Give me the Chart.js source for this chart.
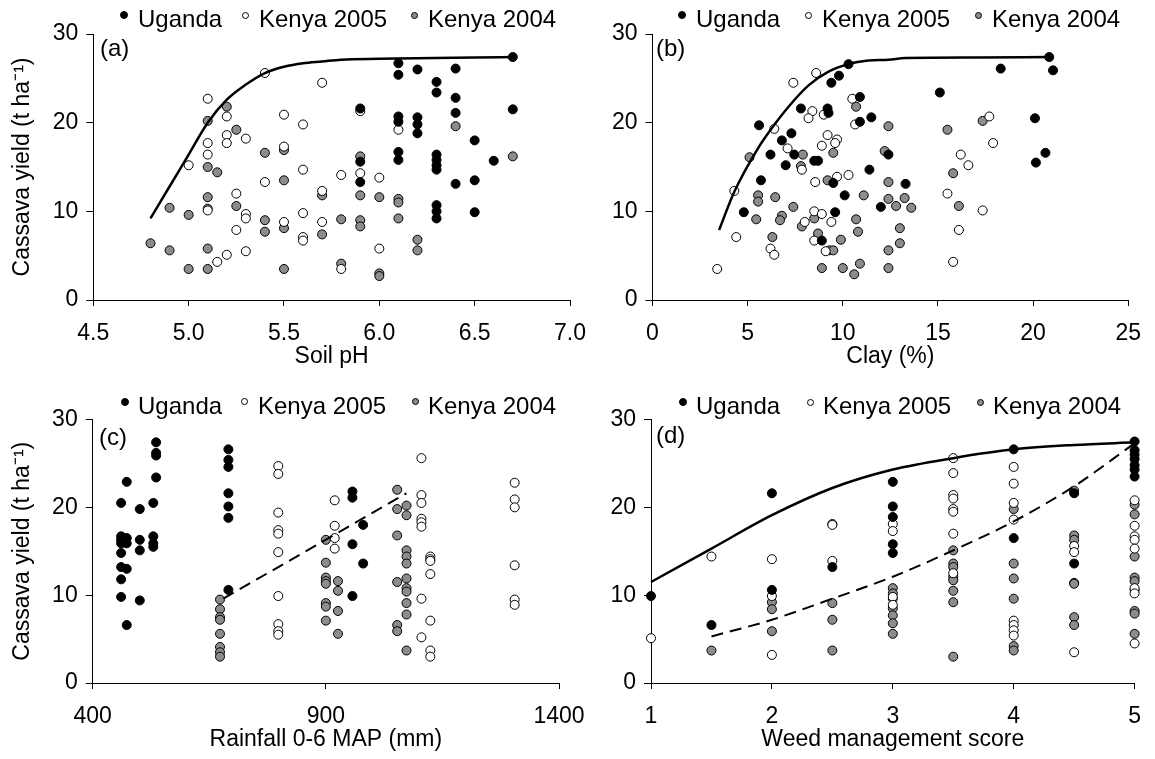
<!DOCTYPE html>
<html>
<head>
<meta charset="utf-8">
<script src="https://cdn.jsdelivr.net/npm/chart.js@4.4.1/dist/chart.umd.min.js"></script>
<style>
  body { margin: 0; background: #fff; }
  #fig { position: relative; width: 1155px; height: 759px; background: #fff; overflow: hidden;
         font-family: 'Liberation Sans', Arial, sans-serif; color: #000; }
  #fig canvas { position: absolute; }
  .txt { position: absolute; font-size: 24px; line-height: 24px; white-space: nowrap; }
  .dot { position: absolute; border-radius: 50%; box-sizing: border-box; border: 1px solid #000; }
</style>
</head>
<body>
<div id="fig">
  <canvas id="chartA" width="600" height="380" style="left:0;top:0"></canvas>
  <canvas id="chartB" width="595" height="380" style="left:560px;top:0"></canvas>
  <canvas id="chartC" width="600" height="379" style="left:0;top:380px"></canvas>
  <canvas id="chartD" width="595" height="379" style="left:560px;top:380px"></canvas>
</div>
<script>
// ---- dados ----
const seriesNames = ['Uganda', 'Kenya 2005', 'Kenya 2004'];
const yieldTicks = [0, 10, 20, 30];
const phTicks = [4.5, 5.0, 5.5, 6.0, 6.5, 7.0];
const clayTicks = [0, 5, 10, 15, 20, 25];
const rainTicks = [400, 900, 1400];
const weedTicks = [1, 2, 3, 4, 5];

// (a) Soil pH
const phUganda = [[5.9,21.6],[5.9,15.6],[5.9,13.3],[6.1,26.7],[6.1,25.4],[6.1,20.7],[6.1,20.1],[6.1,16.7],[6.1,15.8],
  [6.2,26.0],[6.2,20.6],[6.2,19.8],[6.2,18.8],[6.3,24.6],[6.3,23.4],[6.3,16.4],[6.3,15.8],[6.3,15.2],[6.3,14.7],
  [6.3,10.7],[6.3,10.0],[6.3,9.2],[6.4,26.1],[6.4,22.8],[6.4,21.1],[6.4,13.1],[6.5,18.0],[6.5,13.5],[6.5,9.9],
  [6.6,15.7],[6.7,27.4],[6.7,21.5]];
const phKenya05 = [[5.0,15.2],[5.1,22.7],[5.1,17.7],[5.1,16.4],[5.1,10.1],[5.15,4.3],[5.2,20.7],[5.2,18.6],[5.2,17.7],
  [5.2,5.1],[5.25,12.0],[5.25,7.9],[5.3,18.2],[5.3,9.7],[5.3,9.2],[5.3,5.5],[5.4,25.6],[5.4,13.3],[5.5,20.9],
  [5.5,17.3],[5.5,8.8],[5.6,19.8],[5.6,14.7],[5.6,9.8],[5.6,7.1],[5.6,6.7],[5.7,24.5],[5.7,12.3],[5.7,8.8],
  [5.8,14.1],[5.8,3.5],[5.9,21.3],[5.9,14.3],[6.0,13.8],[6.0,5.8],[6.1,19.2]];
const phKenya04 = [[4.8,6.4],[4.9,10.4],[4.9,5.6],[5.0,9.6],[5.0,3.5],[5.1,20.2],[5.1,15.0],[5.1,11.6],[5.1,10.3],
  [5.1,5.8],[5.1,3.5],[5.15,14.4],[5.2,21.8],[5.25,19.2],[5.25,10.6],[5.4,16.6],[5.4,9.0],[5.4,7.7],[5.5,16.9],
  [5.5,13.5],[5.5,8.1],[5.5,3.5],[5.7,11.8],[5.7,7.4],[5.8,9.1],[5.8,4.1],[5.9,16.2],[5.9,11.8],[5.9,9.0],
  [5.9,8.3],[6.0,11.6],[6.0,3.0],[6.0,2.7],[6.1,11.4],[6.1,11.0],[6.1,9.2],[6.2,6.8],[6.2,5.6],[6.4,19.6],[6.7,16.2]];
const phCurve = [[4.8,9.2],[4.9,12.8],[5.0,16.4],[5.1,20.0],[5.2,22.6],[5.3,24.3],[5.4,25.6],[5.5,26.3],
  [5.6,26.7],[5.7,26.9],[5.8,27.1],[6.0,27.2],[6.5,27.35],[6.7,27.4]];

// (b) Clay
const clayUganda = [[10.3,26.6],[9.8,25.3],[9.4,24.5],[7.8,21.6],[9.2,21.6],[9.25,21.1],[5.6,19.7],[7.3,18.8],
  [6.8,18.0],[7.45,16.4],[6.2,16.4],[8.5,15.7],[8.7,15.7],[7.0,15.2],[10.9,22.9],[11.5,20.6],[10.9,20.1],
  [11.4,14.7],[9.5,13.2],[5.7,13.5],[10.1,11.8],[4.8,9.9],[9.6,9.9],[8.9,6.7],[20.85,27.4],[18.3,26.1],
  [21.05,25.9],[15.1,23.4],[20.1,20.5],[20.65,16.6],[20.15,15.5],[12.4,16.4],[13.3,13.1],[12.0,10.5]];
const clayKenya05 = [[8.6,25.6],[7.4,24.5],[10.5,22.7],[10.65,19.8],[8.4,21.3],[8.2,20.5],[9.0,20.9],[6.4,19.3],
  [9.2,18.6],[9.7,18.1],[9.6,17.7],[7.1,17.1],[8.9,17.4],[7.85,14.7],[10.3,14.1],[9.7,13.9],[8.55,13.3],
  [4.3,12.3],[8.5,10.0],[8.9,9.7],[8.0,8.8],[9.4,8.8],[8.5,6.7],[9.1,5.5],[4.4,7.1],[6.2,5.8],[6.4,5.1],
  [3.4,3.5],[17.7,20.7],[17.9,17.7],[16.2,16.4],[16.6,15.2],[15.5,12.0],[17.35,10.1],[16.1,7.9],[15.8,4.3]];
const clayKenya04 = [[5.1,16.1],[7.8,15.1],[7.9,16.4],[9.5,16.6],[10.7,21.8],[9.2,13.5],[5.55,11.8],[5.55,11.1],
  [6.45,11.6],[7.4,10.5],[5.45,9.1],[6.8,9.5],[6.7,9.0],[7.85,8.3],[8.5,9.2],[10.7,9.1],[10.8,7.7],[11.1,11.8],
  [6.3,7.1],[8.7,7.5],[9.9,6.8],[9.3,5.6],[9.5,5.6],[8.9,3.6],[10.0,3.6],[10.6,2.9],[10.9,4.1],[12.4,19.6],
  [12.2,16.8],[12.4,13.3],[12.4,11.4],[12.8,10.6],[13.25,11.5],[13.6,10.4],[13.0,8.1],[13.0,6.4],[12.4,5.6],
  [12.4,3.6],[15.5,19.2],[15.8,14.3],[16.1,10.6],[17.35,20.2]];
const clayCurve = [[3.5,7.9],[4.3,12.2],[5.6,17.3],[6.45,19.9],[7.15,21.8],[8.2,24.2],[9.25,25.75],[10.3,26.6],
  [11.35,27.0],[12.4,27.1],[13.3,27.3],[17.0,27.35],[20.85,27.4]];

// (c) Rainfall
const rainUganda = [[461,20.5],[461,16.7],[461,16.3],[461,15.9],[461,14.8],[461,13.2],[461,11.8],[461,9.8],
  [473,22.9],[473,16.5],[473,15.9],[473,13.0],[473,6.6],[501,19.8],[501,16.3],[501,15.1],[501,9.4],
  [530,20.5],[530,16.7],[530,15.9],[530,15.5],[536,27.4],[536,26.2],[536,25.9],[536,23.4],
  [691,26.6],[691,25.4],[691,24.6],[691,21.6],[691,20.1],[691,18.8],[691,10.6],
  [957,21.8],[957,21.1],[957,15.8],[957,9.9],[980,18.0],[980,13.6]];
const rainKenya05 = [[798,24.7],[798,23.8],[798,19.4],[798,17.4],[798,17.0],[798,14.9],[798,9.9],[798,6.7],
  [798,5.9],[798,5.5],[919,20.8],[919,17.9],[919,16.5],[919,15.3],[1105,25.6],[1105,21.4],[1105,20.5],
  [1105,18.7],[1105,18.3],[1105,17.8],[1105,9.6],[1105,5.2],[1124,14.4],[1124,14.1],[1124,13.9],[1124,12.4],
  [1124,7.1],[1124,3.7],[1124,3.0],[1305,22.8],[1305,20.9],[1305,20.0],[1305,13.4],[1305,9.5],[1305,8.9]];
const rainKenya04 = [[673,9.5],[673,8.4],[673,7.5],[673,7.2],[673,5.6],[673,4.1],[673,3.5],[673,3.0],
  [900,16.3],[900,13.7],[900,12.0],[900,11.6],[900,11.3],[900,9.1],[900,8.7],[900,7.1],
  [926,11.6],[926,10.5],[926,8.2],[926,5.6],[1053,22.0],[1053,19.8],[1053,16.8],[1053,11.5],[1053,6.6],
  [1053,5.9],[1073,20.2],[1073,19.1],[1073,15.1],[1073,14.4],[1073,13.6],[1073,11.9],[1073,10.8],[1073,10.4],
  [1073,9.1],[1073,7.8],[1073,3.7]];
const rainTrend = [[680,9.6],[1073,21.6]];

// (d) Weed management score
const weedUganda = [[1,9.9],[1.5,6.6],[2,21.6],[2,10.6],[2.5,13.2],[3,22.9],[3,20.1],[3,18.9],[3,15.8],[3,14.8],
  [4,26.6],[4,16.5],[4.5,21.6],[4.5,13.6],[5,27.5],[5,26.5],[5,26.0],[5,25.5],[5,24.8],[5,24.3],[5,23.5]];
const weedKenya05 = [[1,5.1],[1.5,14.4],[2,14.1],[2,9.9],[2,3.2],[2.5,18.1],[2.5,18.0],[2.5,13.9],[3,18.1],
  [3,17.3],[3,9.8],[3,8.9],[3.5,25.6],[3.5,23.9],[3.5,21.4],[3.5,21.0],[3.5,19.8],[3.5,19.5],[3.5,17.0],
  [3.5,12.5],[4,24.6],[4,22.7],[4,20.5],[4,18.6],[4,7.1],[4,6.6],[4,6.0],[4,5.4],[4.5,15.6],[4.5,14.9],
  [4.5,3.5],[5,20.8],[5,17.9],[5,16.7],[5,16.3],[5,15.3],[5,10.8],[5,10.2],[5,4.5]];
const weedKenya04 = [[1.5,3.7],[2,9.2],[2,8.4],[2,5.9],[2.5,9.1],[2.5,7.2],[2.5,3.7],[3,10.8],[3,10.2],[3,9.6],
  [3,8.5],[3,7.7],[3,6.8],[3,5.6],[3.5,15.1],[3.5,13.6],[3.5,13.2],[3.5,12.1],[3.5,11.7],[3.5,10.5],[3.5,9.2],
  [3.5,3.0],[4,19.8],[4,13.6],[4,11.9],[4,9.6],[4,4.2],[4,3.7],[4.5,21.9],[4.5,16.8],[4.5,16.3],[4.5,11.4],
  [4.5,11.3],[4.5,7.5],[4.5,6.6],[5,20.3],[5,19.2],[5,14.4],[5,12.0],[5,11.6],[5,10.6],[5,8.2],[5,7.9],[5,5.6]];
const weedBest = [[1,11.5],[1.5,15.3],[2,19.1],[2.5,22.2],[3,24.3],[3.5,25.6],[4,26.6],[4.5,27.1],[5,27.4]];
const weedMean = [[1.5,5.3],[2,7.2],[2.5,9.6],[3,12.1],[3.5,15.1],[4,18.4],[4.5,22.4],[5,27.3]];

// ---- estilo ----
const cores = ['#000000', '#ffffff', '#8c8c8c'];
const yTitle = 'Cassava yield (t ha\u207B\u00B9)';
Chart.defaults.font.family = "'Liberation Sans', Arial, sans-serif";
Chart.defaults.font.size = 23;
Chart.defaults.color = '#000';

function pts(arr) {
  return arr.map(p => ({ x: p[0], y: p[1] }));
}

// cria um painel; area = [esquerda, topo, direita, baixo] da area de plotagem dentro do canvas
function gerarPainel(id, cfg) {
  const canvas = document.getElementById(id);
  const ctx = canvas.getContext('2d');
  const datasets = [];

  // linhas de tendencia (desenhadas por cima)
  cfg.lines.forEach(l => datasets.push({
    data: pts(l.data),
    showLine: true,
    pointRadius: 0,
    borderColor: '#000',
    backgroundColor: 'transparent',
    borderWidth: l.dash ? 2 : 2.5,
    borderDash: l.dash ? [12, 7] : [],
    cubicInterpolationMode: 'monotone',
    clip: false
  }));

  // pontos
  cfg.series.forEach((s, i) => datasets.push({
    label: seriesNames[i],
    data: pts(s),
    pointRadius: 4.5,
    borderWidth: 1,
    borderColor: '#000',
    backgroundColor: cores[i],
    clip: false
  }));

  const xt = cfg.xTicks;
  new Chart(ctx, {
    type: 'scatter',
    data: { datasets: datasets },
    options: {
      responsive: false,
      animation: false,
      devicePixelRatio: 1,
      events: [],
      layout: { padding: { left: 0, top: cfg.area[1], right: canvas.width - cfg.area[2], bottom: 0 } },
      plugins: { legend: { display: false }, tooltip: { enabled: false } },
      scales: {
        x: {
          type: 'linear',
          min: xt[0],
          max: xt[xt.length - 1],
          afterBuildTicks: s => { s.ticks = xt.map(v => ({ value: v })); },
          afterFit: s => { s.height = canvas.height - cfg.area[3]; },
          ticks: { autoSkip: false, maxRotation: 0, padding: 14, callback: cfg.xFmt },
          grid: { drawOnChartArea: false, drawTicks: true, tickLength: 6, color: '#000', lineWidth: 1 },
          border: { display: true, color: '#000', width: 1 },
          title: { display: true, text: cfg.xTitle, padding: { top: 0, bottom: cfg.xTitlePad } }
        },
        y: {
          type: 'linear',
          min: 0,
          max: 30,
          afterBuildTicks: s => { s.ticks = yieldTicks.map(v => ({ value: v })); },
          afterFit: s => { s.width = cfg.area[0]; },
          ticks: { padding: 8, callback: v => String(v) },
          grid: { drawOnChartArea: false, drawTicks: true, tickLength: 7, color: '#000', lineWidth: 1 },
          border: { display: true, color: '#000', width: 1 },
          title: { display: !!cfg.yTitle, text: cfg.yTitle || '', padding: { top: 9, bottom: 0 } }
        }
      }
    }
  });
}

gerarPainel('chartA', {
  area: [93.3, 34, 570.7, 300],
  xTicks: phTicks, xFmt: v => v.toFixed(1), xTitle: 'Soil pH', xTitlePad: 10, yTitle: yTitle,
  series: [phUganda, phKenya05, phKenya04],
  lines: [{ data: phCurve }]
});
gerarPainel('chartB', {
  area: [92.5, 34, 572, 300],
  xTicks: clayTicks, xFmt: v => String(v), xTitle: 'Clay (%)', xTitlePad: 10,
  series: [clayUganda, clayKenya05, clayKenya04],
  lines: [{ data: clayCurve }]
});
gerarPainel('chartC', {
  area: [92.7, 39.5, 559, 303],
  xTicks: rainTicks, xFmt: v => String(v), xTitle: 'Rainfall 0-6 MAP (mm)', xTitlePad: 6, yTitle: yTitle,
  series: [rainUganda, rainKenya05, rainKenya04],
  lines: [{ data: rainTrend, dash: true }]
});
gerarPainel('chartD', {
  area: [91, 39.5, 576.7, 303],
  xTicks: weedTicks, xFmt: v => String(v), xTitle: 'Weed management score', xTitlePad: 6,
  series: [weedUganda, weedKenya05, weedKenya04],
  lines: [{ data: weedBest }, { data: weedMean, dash: true }]
});

// ---- legendas e rotulos dos paineis (texto html) ----
const fig = document.getElementById('fig');
function addTexto(txt, left, baseline) {
  const t = document.createElement('div');
  t.className = 'txt';
  t.textContent = txt;
  t.style.left = left + 'px';
  t.style.top = (baseline - 20.3) + 'px';
  fig.appendChild(t);
}
function legenda(dots, texts, cy, baseline) {
  seriesNames.forEach((nome, i) => {
    const r = i === 0 ? 4 : 3.5;
    const d = document.createElement('div');
    d.className = 'dot';
    d.style.left = (dots[i] - r) + 'px';
    d.style.top = (cy - r) + 'px';
    d.style.width = (2 * r) + 'px';
    d.style.height = (2 * r) + 'px';
    d.style.background = cores[i];
    fig.appendChild(d);
    addTexto(nome, texts[i], baseline);
  });
}
legenda([124, 245, 414], [138, 259, 428], 15, 27.7);
legenda([682, 808, 978], [696, 822, 992], 15, 27.7);
legenda([125, 244, 415], [138, 258, 428], 401.5, 414);
legenda([683, 810, 980], [696, 823, 993], 402, 414);

addTexto('(a)', 100, 56.7);
addTexto('(b)', 656, 56.7);
addTexto('(c)', 99, 445);
addTexto('(d)', 656, 443.5);
</script>
</body>
</html>
